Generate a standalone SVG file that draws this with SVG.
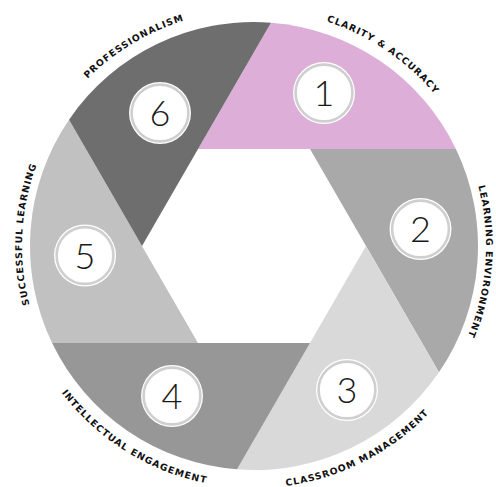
<svg xmlns="http://www.w3.org/2000/svg" width="496" height="487" viewBox="0 0 496 487">
<style>
.lbl{font-family:"DejaVu Sans","Liberation Sans",sans-serif;font-weight:bold;font-size:9.3px;letter-spacing:1px;fill:#111}
.num{font-family:Lato,"Open Sans","Liberation Sans",sans-serif;font-weight:300;font-size:36px;fill:#1a1a1a;text-anchor:middle}
.ro{fill:#fff}
.ri{fill:#fff;stroke:#cfcfcf;stroke-width:2.6}
</style>
<defs>
<path id="seg" d="M198,149 L455.9,149 A224,224 0 0 0 270.95,22.65 Z"/>
<path id="p1" d="M18.58,229.54 A236,236 0 1 1 357.46,458.11"/>
<path id="p2" d="M152.30,37.48 A232,232 0 1 1 124.27,438.34"/>
<path id="p3" d="M12.33,233.33 A242,242 0 1 0 385.80,43.04"/>
<path id="p4" d="M140.39,32.33 A242,242 0 1 0 495.85,254.45"/>
<path id="p5" d="M359.33,452.71 A232,232 0 1 1 380.36,51.43"/>
<path id="p6" d="M139.59,452.41 A236,236 0 1 1 489.96,241.88"/>
</defs>
<rect width="496" height="487" fill="#fff"/>
<g id="node1">
<use href="#seg" fill="#dcaed8"/>
<circle class="ro" cx="324" cy="93" r="31"/><circle class="ri" cx="324" cy="93" r="28.4"/>
<text class="num" x="324" y="106">1</text>
<text class="lbl"><textPath href="#p1" startOffset="50%" text-anchor="middle">CLARITY &amp; ACCURACY</textPath></text>
</g>
<g id="node2">
<use href="#seg" fill="#a9a9a9" transform="rotate(60 254 246)"/>
<circle class="ro" cx="420.5" cy="229" r="31"/><circle class="ri" cx="420.5" cy="229" r="28.4"/>
<text class="num" x="420.5" y="242">2</text>
<text class="lbl"><textPath href="#p2" startOffset="50%" text-anchor="middle">LEARNING ENVIRONMENT</textPath></text>
</g>
<g id="node3">
<use href="#seg" fill="#d9d9d9" transform="rotate(120 254 246)"/>
<circle class="ro" cx="347" cy="390" r="31"/><circle class="ri" cx="347" cy="390" r="28.4"/>
<text class="num" x="347" y="403">3</text>
<text class="lbl"><textPath href="#p3" startOffset="50%" text-anchor="middle">CLASSROOM MANAGEMENT</textPath></text>
</g>
<g id="node4">
<use href="#seg" fill="#979797" transform="rotate(180 254 246)"/>
<circle class="ro" cx="172" cy="396" r="31"/><circle class="ri" cx="172" cy="396" r="28.4"/>
<text class="num" x="172" y="409">4</text>
<text class="lbl"><textPath href="#p4" startOffset="50%" text-anchor="middle">INTELLECTUAL ENGAGEMENT</textPath></text>
</g>
<g id="node5">
<use href="#seg" fill="#c1c1c1" transform="rotate(240 254 246)"/>
<circle class="ro" cx="85" cy="255.5" r="31"/><circle class="ri" cx="85" cy="255.5" r="28.4"/>
<text class="num" x="85" y="268.5">5</text>
<text class="lbl"><textPath href="#p5" startOffset="50%" text-anchor="middle">SUCCESSFUL LEARNING</textPath></text>
</g>
<g id="node6">
<use href="#seg" fill="#6e6e6e" transform="rotate(300 254 246)"/>
<circle class="ro" cx="160" cy="113" r="31"/><circle class="ri" cx="160" cy="113" r="28.4"/>
<text class="num" x="160" y="126">6</text>
<text class="lbl"><textPath href="#p6" startOffset="50%" text-anchor="middle">PROFESSIONALISM</textPath></text>
</g>
</svg>
